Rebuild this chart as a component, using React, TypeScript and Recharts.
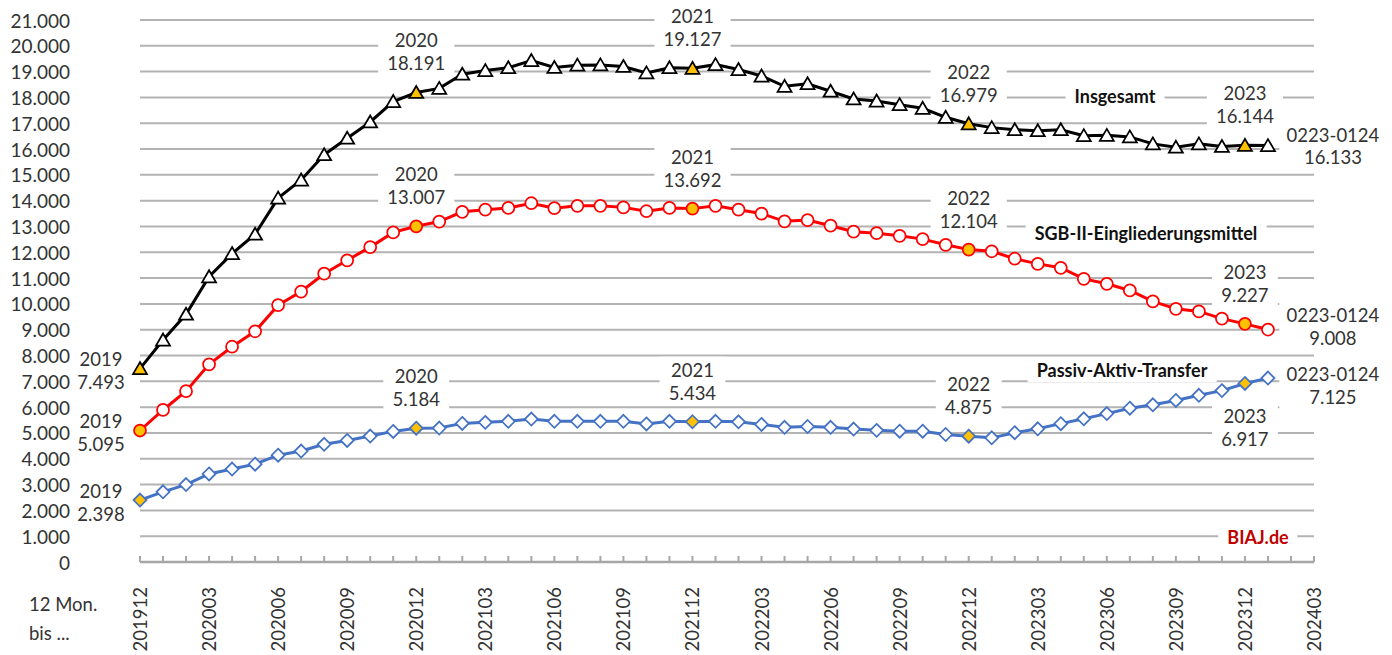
import React from 'react';
import { LineChart, Line, XAxis, YAxis, CartesianGrid } from 'recharts';

// 12-Monats-Summen, Monat = Ende des Zeitraums
const months = [
  '201912', '202001', '202002', '202003', '202004', '202005', '202006', '202007', '202008', '202009', '202010', '202011',
  '202012', '202101', '202102', '202103', '202104', '202105', '202106', '202107', '202108', '202109', '202110', '202111',
  '202112', '202201', '202202', '202203', '202204', '202205', '202206', '202207', '202208', '202209', '202210', '202211',
  '202212', '202301', '202302', '202303', '202304', '202305', '202306', '202307', '202308', '202309', '202310', '202311',
  '202312', '202401', '202402', '202403',
];

const insgesamt = [
  7493, 8600, 9600, 11050, 11950, 12700, 14100, 14800, 15780, 16420, 17050, 17840,
  18191, 18350, 18900, 19040, 19150, 19430, 19160, 19250, 19260, 19200, 18950, 19150,
  19127, 19270, 19080, 18830, 18430, 18530, 18240, 17940, 17860, 17720, 17580, 17230,
  16979, 16830, 16750, 16710, 16750, 16520, 16530, 16470, 16200, 16070, 16200, 16100,
  16144, 16133,
];

const eingliederung = [
  5095, 5890, 6620, 7660, 8340, 8940, 9950, 10480, 11170, 11690, 12200, 12770,
  13007, 13190, 13570, 13650, 13720, 13900, 13710, 13800, 13800, 13740, 13590, 13720,
  13692, 13800, 13650, 13500, 13200, 13250, 13030, 12800, 12740, 12640, 12510, 12290,
  12104, 12040, 11750, 11550, 11400, 10970, 10780, 10520, 10100, 9810, 9710, 9430,
  9227, 9008,
];

const passivAktiv = [
  2398, 2720, 3000, 3410, 3600, 3790, 4140, 4300, 4560, 4710, 4880, 5060,
  5184, 5190, 5370, 5410, 5450, 5540, 5450, 5450, 5450, 5450, 5350, 5450,
  5434, 5450, 5430, 5330, 5220, 5250, 5220, 5150, 5100, 5070, 5070, 4940,
  4875, 4810, 5010, 5160, 5360, 5550, 5750, 5960, 6090, 6260, 6460, 6640,
  6917, 7125,
];

const yTicks = [
  0, 1000, 2000, 3000, 4000, 5000, 6000, 7000, 8000, 9000, 10000,
  11000, 12000, 13000, 14000, 15000, 16000, 17000, 18000, 19000, 20000, 21000,
];

// Jahreswerte (Dezember) werden gelb markiert und beschriftet
const yearLabels: Record<number, string> = {
  0: '2019', 12: '2020', 24: '2021', 36: '2022', 48: '2023', 49: '0223-0124',
};
const highlighted = [0, 12, 24, 36, 48];

const placement: Record<string, Record<number, string>> = {
  total: { 0: 'left', 12: 'above', 24: 'above', 36: 'above', 48: 'above', 49: 'right' },
  sgb: { 0: 'left', 12: 'above', 24: 'above', 36: 'above', 48: 'above', 49: 'rightUp' },
  pat: { 0: 'left', 12: 'above', 24: 'above', 36: 'above', 48: 'below', 49: 'rightDown' },
};

const data = months.map((m, i) => ({
  month: m,
  total: insgesamt[i],
  sgb: eingliederung[i],
  pat: passivAktiv[i],
}));

const FONT = 'Lato, "Noto Sans", sans-serif';
const TEXT = '#333333';
const GOLD = '#FFC000';

const fmt = (n: number) => String(n).replace(/\B(?=(\d{3})+(?!\d))/g, '.');

function DataLabel({ cx, cy, pos, lines }: { cx: number; cy: number; pos: string; lines: string[] }) {
  let tx = cx;
  let y1 = cy - 52;
  let y2 = cy - 29;
  if (pos === 'below') { y1 = cy + 33; y2 = cy + 56; }
  if (pos === 'left') { tx = cx - 39; y1 = cy - 9.5; y2 = cy + 13.5; }
  if (pos === 'right') { tx = cx + 65; y1 = cy - 11; y2 = cy + 11.5; }
  if (pos === 'rightUp') { tx = cx + 65; y1 = cy - 15; y2 = cy + 8; }
  if (pos === 'rightDown') { tx = cx + 65; y1 = cy - 4; y2 = cy + 19; }
  const maxLen = Math.max(...lines.map((l) => l.length));
  const w = maxLen * 18.5 * 0.56 + 14;
  return (
    <g>
      {pos !== 'left' && (
        <rect x={tx - w / 2} y={y1 - 13} width={w} height={y2 - y1 + 26} fill="#fff" />
      )}
      {lines.map((l, k) => (
        <text
          key={k}
          x={tx}
          y={k === 0 ? y1 : y2}
          textAnchor="middle"
          dominantBaseline="central"
          fontFamily={FONT}
          fontSize={18.5}
          fill={TEXT}
        >
          {l}
        </text>
      ))}
    </g>
  );
}

function makeDot(series: string, color: string, shape: string) {
  return (props: any) => {
    const { cx, cy, index, value } = props;
    if (cx == null || cy == null || value == null) return <g key={`${series}-${index}`} />;
    const fill = highlighted.includes(index) ? GOLD : '#fff';
    let marker;
    if (shape === 'triangle') {
      marker = (
        <polygon
          points={`${cx},${cy - 6.5} ${cx - 7},${cy + 5.5} ${cx + 7},${cy + 5.5}`}
          fill={fill}
          stroke={color}
          strokeWidth={1.75}
        />
      );
    } else if (shape === 'circle') {
      marker = <circle cx={cx} cy={cy} r={6} fill={fill} stroke={color} strokeWidth={1.75} />;
    } else {
      marker = (
        <polygon
          points={`${cx},${cy - 6.5} ${cx + 6.5},${cy} ${cx},${cy + 6.5} ${cx - 6.5},${cy}`}
          fill={fill}
          stroke={color}
          strokeWidth={1.75}
        />
      );
    }
    const pos = placement[series][index];
    return (
      <g key={`${series}-${index}`}>
        {marker}
        {pos && <DataLabel cx={cx} cy={cy} pos={pos} lines={[yearLabels[index], fmt(value)]} />}
      </g>
    );
  };
}

function MonthTick(props: any) {
  const { x, y, index, payload } = props;
  return (
    <g>
      <line x1={x} x2={x} y1={y} y2={y - 6} stroke="#a6a6a6" strokeWidth={2} />
      {index % 3 === 0 && (
        <text
          transform={`translate(${x},${y + 25}) rotate(-90)`}
          textAnchor="end"
          dominantBaseline="central"
          fontFamily={FONT}
          fontSize={18.5}
          fill={TEXT}
        >
          {payload.value}
        </text>
      )}
    </g>
  );
}

function ValueTick(props: any) {
  const { x, y, payload } = props;
  return (
    <text
      x={x - 70}
      y={y}
      textAnchor="end"
      dominantBaseline="central"
      fontFamily={FONT}
      fontSize={19}
      fill={TEXT}
    >
      {fmt(payload.value)}
    </text>
  );
}

const boxLabel = (cx: number, cy: number, color = '#111'): React.CSSProperties => ({
  position: 'absolute',
  left: cx,
  top: cy,
  transform: 'translate(-50%, -50%)',
  background: '#fff',
  padding: '2px 9px',
  fontFamily: FONT,
  fontWeight: 700,
  fontSize: 18,
  lineHeight: '20px',
  color,
  whiteSpace: 'nowrap',
});

export default function App() {
  return (
    <div
      style={{
        position: 'absolute',
        left: 0,
        top: 0,
        width: 1392,
        height: 655,
        overflow: 'hidden',
        background: '#fff',
        fontFamily: FONT,
      }}
    >
      <LineChart width={1392} height={655} data={data} margin={{ top: 20, right: 78, bottom: 0, left: 0 }}>
        <CartesianGrid vertical={false} stroke="#b3b3b3" strokeWidth={2} />
        <XAxis
          dataKey="month"
          interval={0}
          height={93}
          tickSize={0}
          tickMargin={0}
          tickLine={false}
          axisLine={{ stroke: '#a6a6a6', strokeWidth: 2.5 }}
          padding={{ left: 0, right: 0 }}
          tick={<MonthTick />}
        />
        <YAxis
          domain={[0, 21000]}
          ticks={yTicks}
          interval={0}
          width={140}
          tickSize={0}
          tickMargin={0}
          axisLine={false}
          tickLine={false}
          tick={<ValueTick />}
        />
        <Line
          type="linear"
          dataKey="pat"
          stroke="#4472C4"
          strokeWidth={3}
          dot={makeDot('pat', '#4472C4', 'diamond')}
          activeDot={false}
          isAnimationActive={false}
        />
        <Line
          type="linear"
          dataKey="sgb"
          stroke="#FF0000"
          strokeWidth={3}
          dot={makeDot('sgb', '#FF0000', 'circle')}
          activeDot={false}
          isAnimationActive={false}
        />
        <Line
          type="linear"
          dataKey="total"
          stroke="#000000"
          strokeWidth={3}
          dot={makeDot('total', '#000000', 'triangle')}
          activeDot={false}
          isAnimationActive={false}
        />
      </LineChart>

      <div style={boxLabel(1115, 96)}>Insgesamt</div>
      <div style={boxLabel(1146, 233)}>SGB-II-Eingliederungsmittel</div>
      <div style={boxLabel(1122, 370)}>Passiv-Aktiv-Transfer</div>
      <div style={boxLabel(1258, 537, '#C00000')}>BIAJ.de</div>

      <div style={{ position: 'absolute', left: 29, top: 590, fontSize: 18.5, lineHeight: '29px', color: TEXT }}>
        12 Mon.
        <br />
        bis ...
      </div>
    </div>
  );
}
